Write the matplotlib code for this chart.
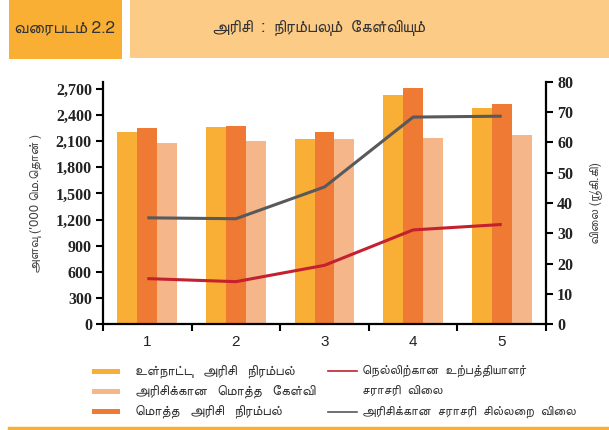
import matplotlib
matplotlib.use("Agg")
import matplotlib.pyplot as plt
from matplotlib.patches import Rectangle
from matplotlib.lines import Line2D
import numpy as np

# தரவு (படத்திலிருந்து மதிப்பிடப்பட்டது)
years = ["1", "2", "3", "4", "5"]
domestic_supply = [2207, 2264, 2126, 2632, 2483]   # உள்நாட்டு அரிசி நிரம்பல்
total_supply = [2253, 2276, 2207, 2713, 2529]      # மொத்த அரிசி நிரம்பல்
total_demand = [2080, 2103, 2126, 2138, 2172]      # அரிசிக்கான மொத்த கேள்வி
paddy_price = [15.0, 14.0, 19.4, 31.1, 32.9]       # நெல்லிற்கான உற்பத்தியாளர் சராசரி விலை
retail_price = [35.1, 34.8, 45.3, 68.4, 68.7]      # அரிசிக்கான சராசரி சில்லறை விலை
left_ticks = [0, 300, 600, 900, 1200, 1500, 1800, 2100, 2400, 2700]
right_ticks = [0, 10, 20, 30, 40, 50, 60, 70, 80]

YELLOW = "#F9AE35"
DARK = "#EE7A33"
LIGHT = "#F5B68A"
RED = "#C4202E"
GRAY = "#58595B"
TAMIL = ["FreeSans", "DejaVu Sans"]
TXT = "#333333"

W, H = 609, 430


def fx(x):
    return x / W


def fy(y):
    return 1 - y / H


def vis(s):
    # matplotlib does no shaping: put the prefix vowel signs in front of the consonant
    res = []
    i = 0
    while i < len(s):
        c = s[i]
        nxt = s[i + 1] if i + 1 < len(s) else ""
        if nxt in ("\u0bc6", "\u0bc7", "\u0bc8"):
            res += [nxt, c]
            i += 2
        elif nxt == "\u0bca":
            res += ["\u0bc6", c, "\u0bbe"]
            i += 2
        elif nxt == "\u0bcb":
            res += ["\u0bc7", c, "\u0bbe"]
            i += 2
        else:
            res.append(c)
            i += 1
    return "".join(res)


fig = plt.figure(figsize=(W / 100, H / 100), dpi=100)

# தலைப்பு பெட்டிகள்
fig.add_artist(Rectangle((fx(9), fy(59)), fx(122) - fx(9), fy(0) - fy(59),
                         transform=fig.transFigure, color="#F9AF33", lw=0))
fig.add_artist(Rectangle((fx(130), fy(58)), fx(609) - fx(130), fy(0) - fy(58),
                         transform=fig.transFigure, color="#FCCB86", lw=0))
fig.text(fx(65), fy(28), vis("வரைபடம் 2.2"), ha="center", va="center",
         fontsize=12.5, color=TXT, family=TAMIL)
fig.text(fx(319), fy(28), vis("அரிசி  :  நிரம்பலும்  கேள்வியும்"), ha="center", va="center",
         fontsize=12, color=TXT, family=TAMIL)

ax = fig.add_axes([fx(103), fy(324), fx(546) - fx(103), fy(82) - fy(324)])
x = np.arange(1, len(years) + 1)
bw = 0.225
ax.bar(x - bw, domestic_supply, bw, color=YELLOW, lw=0)
ax.bar(x, total_supply, bw, color=DARK, lw=0)
ax.bar(x + bw, total_demand, bw, color=LIGHT, lw=0)
ax.set_xlim(0.5, len(years) + 0.5)
ax.set_ylim(0, 2780)
ax.set_yticks(left_ticks)
ax.set_yticklabels([f"{v:,}" for v in left_ticks], fontsize=11.5, fontweight="bold",
                   family="Liberation Serif", color="#222222")
ax.set_xticks(x)
ax.set_xticklabels(years, fontsize=11, family="Liberation Sans", color="#222222")
ax.set_xticks(np.arange(0.5, len(years) + 1), minor=True)
ax.tick_params(axis="x", which="major", length=0, pad=8)
ax.tick_params(axis="x", which="minor", length=5, width=1.5, direction="out")
ax.tick_params(axis="y", length=5, width=1.5, direction="out", pad=3)
ax.spines["top"].set_visible(False)
ax.spines["right"].set_visible(False)
for s in ("left", "bottom"):
    ax.spines[s].set_linewidth(1.6)
ax.set_ylabel(vis("அளவு ('000 மெ.தொன் )"), family=TAMIL, fontsize=9.5, color="#444444")
ax.yaxis.set_label_coords(-0.138, 0.5)

ax2 = ax.twinx()
ax2.plot(x, retail_price, color=GRAY, lw=2.2, solid_capstyle="butt")
ax2.plot(x, paddy_price, color=RED, lw=2.2, solid_capstyle="butt")
ax2.set_ylim(0, 80)
ax2.set_yticks(right_ticks)
ax2.set_yticklabels([str(v) for v in right_ticks], fontsize=11.5, fontweight="bold",
                    family="Liberation Serif", color="#222222")
ax2.tick_params(axis="y", length=5, width=1.5, direction="out", pad=3)
ax2.spines["top"].set_visible(False)
ax2.spines["left"].set_visible(False)
ax2.spines["bottom"].set_visible(False)
ax2.spines["right"].set_linewidth(1.6)
ax2.set_ylabel(vis("விலை (ரூ/கி.கி)"), family=TAMIL, fontsize=9.5, color="#444444",
               rotation=90)
ax2.yaxis.set_label_coords(1.097, 0.5)

# விளக்கம் (legend)
bar_items = [(YELLOW, "உள்நாட்டு அரிசி நிரம்பல்", 371),
             (LIGHT, "அரிசிக்கான மொத்த கேள்வி", 391),
             (DARK, "மொத்த அரிசி நிரம்பல்", 411)]
for col, label, yy in bar_items:
    fig.add_artist(Rectangle((fx(92), fy(yy + 2.5)), fx(120) - fx(92), fy(0) - fy(5),
                             transform=fig.transFigure, color=col, lw=0))
    fig.text(fx(135), fy(yy), vis(label).replace(" ", "   "), va="center", ha="left",
             fontsize=10, color=TXT, family=TAMIL)

line_items = [(RED, ["நெல்லிற்கான உற்பத்தியாளர்", "சராசரி விலை"], 371),
              (GRAY, ["அரிசிக்கான சராசரி சில்லறை விலை"], 412)]
for col, lines, yy in line_items:
    fig.add_artist(Line2D([fx(328), fx(357)], [fy(yy), fy(yy)], transform=fig.transFigure,
                          color=col, lw=1.2))
    for k, label in enumerate(lines):
        fig.text(fx(362), fy(yy + 20 * k), vis(label).replace(" ", "  "), va="center",
                 ha="left", fontsize=9.5, color=TXT, family=TAMIL)

fig.add_artist(Line2D([fx(9), fx(609)], [fy(428), fy(428)], transform=fig.transFigure,
                      color="#F9AF33", lw=2.5))

fig.savefig("out.png", dpi=100)
